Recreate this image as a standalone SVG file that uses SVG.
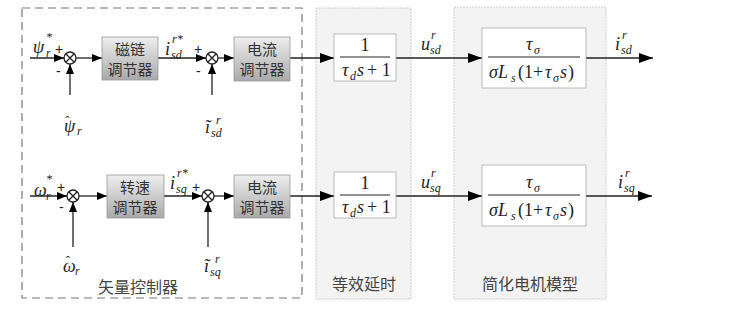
<svg xmlns="http://www.w3.org/2000/svg" width="729" height="312" viewBox="0 0 729 312">
<defs>
<linearGradient id="g" x1="0" y1="0" x2="0" y2="1">
<stop offset="0" stop-color="#eeeeee"/>
<stop offset="1" stop-color="#a9a9a9"/>
</linearGradient>
<marker id="a" markerWidth="10" markerHeight="8" refX="10" refY="4" orient="auto" markerUnits="userSpaceOnUse">
<path d="M0,0 L10,4 L0,8 z" fill="#000"/>
</marker>
<marker id="b" markerWidth="14" markerHeight="10" refX="14" refY="5" orient="auto" markerUnits="userSpaceOnUse">
<path d="M0,0 L14,5 L0,10 z" fill="#000"/>
</marker>
</defs>
<style>
.panel{fill:#f3f3f3;stroke:#cfcfcf;stroke-width:1;stroke-dasharray:2 1}
.dash{fill:none;stroke:#777;stroke-width:1.2;stroke-dasharray:8 5}
.ctl{fill:url(#g);stroke:#999;stroke-width:0.8}
.tf{fill:#fff;stroke:#aaa;stroke-width:0.8}
.cn{font-family:"Noto Sans CJK SC",sans-serif;font-size:15px;fill:#333;text-anchor:middle}
.cap{font-family:"Noto Sans CJK SC",sans-serif;font-size:16px;fill:#444;text-anchor:middle}
.ln{stroke:#222;stroke-width:1.3;fill:none}
.sum{fill:#fff;stroke:#222;stroke-width:1.3}
</style>

<g id="panels">
<rect class="panel" x="316" y="8" width="95" height="291"/>
<rect class="panel" x="454" y="7" width="152" height="292"/>
<rect class="dash" x="22" y="8" width="280" height="290"/>
<text class="cap" x="138" y="293">矢量控制器</text>
<text class="cap" x="364" y="290">等效延时</text>
<text class="cap" x="530" y="290">简化电机模型</text>
</g>

<g id="connectors">
<line class="ln" x1="30" y1="58" x2="64" y2="58" marker-end="url(#a)"/>
<line class="ln" x1="76" y1="58" x2="102" y2="58" marker-end="url(#a)"/>
<line class="ln" x1="70" y1="95" x2="70" y2="64" marker-end="url(#a)"/>
<line class="ln" x1="158" y1="58" x2="206" y2="58" marker-end="url(#a)"/>
<line class="ln" x1="212" y1="95" x2="212" y2="64" marker-end="url(#a)"/>
<line class="ln" x1="218" y1="58" x2="234" y2="58" marker-end="url(#a)"/>
<line class="ln" x1="290" y1="58" x2="334" y2="58" marker-end="url(#b)"/>
<line class="ln" x1="396" y1="58" x2="482" y2="58" marker-end="url(#b)"/>
<line class="ln" x1="586" y1="58" x2="653" y2="58" marker-end="url(#b)"/>

<line class="ln" x1="30" y1="196" x2="67" y2="196" marker-end="url(#a)"/>
<line class="ln" x1="79" y1="196" x2="107" y2="196" marker-end="url(#a)"/>
<line class="ln" x1="73" y1="247" x2="73" y2="202" marker-end="url(#a)"/>
<line class="ln" x1="164" y1="196" x2="202" y2="196" marker-end="url(#a)"/>
<line class="ln" x1="208" y1="247" x2="208" y2="202" marker-end="url(#a)"/>
<line class="ln" x1="214" y1="196" x2="234" y2="196" marker-end="url(#a)"/>
<line class="ln" x1="290" y1="196" x2="334" y2="196" marker-end="url(#b)"/>
<line class="ln" x1="396" y1="196" x2="482" y2="196" marker-end="url(#b)"/>
<line class="ln" x1="586" y1="196" x2="652" y2="196" marker-end="url(#b)"/>
</g>

<g font-family="Liberation Sans, Arial, sans-serif" font-size="14" fill="#222">
<g id="sum1d">
<circle class="sum" cx="70" cy="58" r="6"/>
<path class="ln" d="M65.8,53.8 L74.2,62.2 M74.2,53.8 L65.8,62.2" stroke-width="1"/>
<text x="55" y="54">+</text>
<text x="56" y="76">-</text>
</g>
<g id="sum2d">
<circle class="sum" cx="212" cy="58" r="6"/>
<path class="ln" d="M207.8,53.8 L216.2,62.2 M216.2,53.8 L207.8,62.2" stroke-width="1"/>
<text x="194" y="54">+</text>
<text x="196" y="76">-</text>
</g>
<g id="sum1q">
<circle class="sum" cx="73" cy="196" r="6"/>
<path class="ln" d="M68.8,191.8 L77.2,200.2 M77.2,191.8 L68.8,200.2" stroke-width="1"/>
<text x="57" y="192">+</text>
<text x="59" y="212">-</text>
</g>
<g id="sum2q">
<circle class="sum" cx="208" cy="196" r="6"/>
<path class="ln" d="M203.8,191.8 L212.2,200.2 M212.2,191.8 L203.8,200.2" stroke-width="1"/>
<text x="192" y="192">+</text>
</g>
</g>

<g id="fluxctl">
<rect class="ctl" x="102" y="37" width="56" height="43"/>
<text class="cn" x="130" y="55">磁链</text>
<text class="cn" x="130" y="75">调节器</text>
</g>
<g id="curctl_d">
<rect class="ctl" x="234" y="37" width="56" height="44"/>
<text class="cn" x="262" y="55">电流</text>
<text class="cn" x="262" y="75">调节器</text>
</g>
<g id="spdctl">
<rect class="ctl" x="107" y="175" width="57" height="43"/>
<text class="cn" x="135" y="193">转速</text>
<text class="cn" x="135" y="213">调节器</text>
</g>
<g id="curctl_q">
<rect class="ctl" x="234" y="175" width="56" height="43"/>
<text class="cn" x="262" y="193">电流</text>
<text class="cn" x="262" y="213">调节器</text>
</g>

<g font-family="Liberation Serif, Times New Roman, DejaVu Serif, serif" font-size="18" fill="#222">
<g id="delay_d">
<rect class="tf" x="334" y="34" width="62" height="47"/>
<text x="365" y="51" text-anchor="middle">1</text>
<line x1="340" y1="57" x2="390" y2="57" stroke="#222" stroke-width="1"/>
<text x="342" y="76" font-style="italic">τ</text><text x="350" y="80" font-style="italic" font-size="12">d</text><text x="357" y="76" font-style="italic">s</text><text x="367" y="76">+ 1</text>
</g>
<g id="delay_q">
<rect class="tf" x="334" y="172" width="62" height="46"/>
<text x="365" y="189" text-anchor="middle">1</text>
<line x1="340" y1="195" x2="390" y2="195" stroke="#222" stroke-width="1"/>
<text x="342" y="213" font-style="italic">τ</text><text x="350" y="217" font-style="italic" font-size="12">d</text><text x="357" y="213" font-style="italic">s</text><text x="367" y="213">+ 1</text>
</g>

<g id="motor_d">
<rect class="tf" x="482" y="28" width="104" height="60"/>
<text x="526" y="50" font-style="italic">τ</text><text x="534" y="54" font-style="italic" font-size="12">σ</text>
<line x1="488" y1="57" x2="580" y2="57" stroke="#222" stroke-width="1"/>
<text x="489" y="78" font-style="italic">σL</text><text x="511" y="82" font-style="italic" font-size="12">s</text><text x="518" y="78">(1+</text><text x="545" y="78" font-style="italic">τ</text><text x="553" y="82" font-style="italic" font-size="12">σ</text><text x="560" y="78" font-style="italic">s</text><text x="568" y="78">)</text>
</g>
<g id="motor_q">
<rect class="tf" x="482" y="165" width="104" height="61"/>
<text x="526" y="188" font-style="italic">τ</text><text x="534" y="192" font-style="italic" font-size="12">σ</text>
<line x1="488" y1="195" x2="580" y2="195" stroke="#222" stroke-width="1"/>
<text x="489" y="216" font-style="italic">σL</text><text x="511" y="220" font-style="italic" font-size="12">s</text><text x="518" y="216">(1+</text><text x="545" y="216" font-style="italic">τ</text><text x="553" y="220" font-style="italic" font-size="12">σ</text><text x="560" y="216" font-style="italic">s</text><text x="568" y="216">)</text>
</g>

<g id="labels" font-style="italic">
<text x="33" y="53">ψ</text><text x="46" y="57" font-size="12">r</text><text x="46" y="41" font-size="12">*</text>
<text x="64" y="132">ψ<tspan dx="-10" dy="-7" font-size="13" font-style="normal">ˆ</tspan><tspan x="77" y="135" font-size="12">r</tspan></text>
<text x="165" y="55">i</text><text x="171" y="59" font-size="12">sd</text><text x="172" y="43" font-size="12">r*</text>
<text x="205" y="133">ĩ</text><text x="211" y="137" font-size="12">sd</text><text x="216" y="124" font-size="12">r</text>

<text x="34" y="196">ω</text><text x="46" y="200" font-size="12">r</text><text x="46" y="183" font-size="12">*</text>
<text x="63" y="272">ω<tspan dx="-10" dy="-7" font-size="13" font-style="normal">ˆ</tspan><tspan x="75" y="275" font-size="12">r</tspan></text>
<text x="170" y="189">i</text><text x="176" y="193" font-size="12">sq</text><text x="177" y="177" font-size="12">r*</text>
<text x="204" y="272">ĩ</text><text x="210" y="276" font-size="12">sq</text><text x="215" y="263" font-size="12">r</text>

<text x="421" y="50">u</text><text x="430" y="54" font-size="12">sd</text><text x="431" y="39" font-size="12">r</text>
<text x="421" y="188">u</text><text x="430" y="192" font-size="12">sq</text><text x="431" y="177" font-size="12">r</text>
<text x="615" y="50">i</text><text x="621" y="54" font-size="12">sd</text><text x="622" y="39" font-size="12">r</text>
<text x="618" y="188">i</text><text x="624" y="192" font-size="12">sq</text><text x="625" y="177" font-size="12">r</text>
</g>
</g>
</svg>
